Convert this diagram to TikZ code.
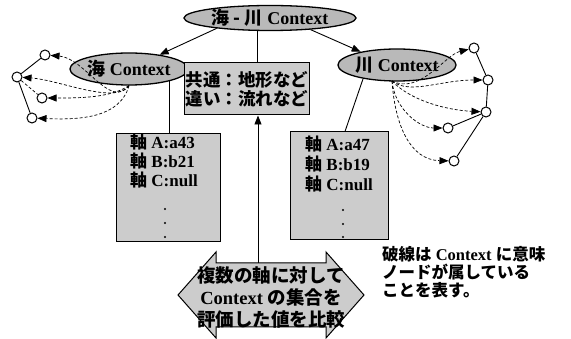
\documentclass[tikz,border=0pt]{standalone}
\usepackage{fontspec}
\setmainfont{Liberation Serif}
\newfontfamily\jp{Noto Sans CJK JP}
\usetikzlibrary{arrows.meta,shapes.geometric}
\begin{document}
\begin{tikzpicture}[x=1pt,y=-1pt,
  ell/.style={ellipse, draw, line width=1.3pt, fill=gray!55, inner sep=0pt, font=\fontsize{18}{19}\selectfont\bfseries},
  boxx/.style={draw, line width=1pt, fill=gray!40, inner sep=0pt},
  txt/.style={anchor=north west, align=left, inner sep=0pt, font=\fontsize{17}{19}\selectfont\bfseries},
  dotn/.style={circle, draw, line width=1pt, fill=white, minimum size=10pt, inner sep=0pt},
  dsh/.style={dash pattern=on 3pt off 2pt, line width=0.7pt, -{Triangle[length=9pt,width=7pt]}},
  sol/.style={line width=0.9pt},
  arr/.style={line width=0.9pt, -{Triangle[length=9pt,width=7pt]}},
]
\useasboundingbox (0,0) rectangle (571,339);
% ellipses
\node[ell, minimum width=172pt, minimum height=25pt] (top) at (270,18) {{\jp 海 - 川} Context};
\node[ell, minimum width=92pt, minimum height=32pt] (le) at (129,69) {{\jp 海} Context};
\node[ell, minimum width=92pt, minimum height=32pt] (re) at (397,65) {{\jp 川} Context};
\draw[arr] (top.191) -- (le.25);
\draw[arr] (top.-16) -- (re.160);
% middle box
\node[boxx, minimum width=125pt, minimum height=52pt, align=left, font=\fontsize{17.5}{19}\selectfont\bfseries] (mid) at (247,89) {\jp 共通：地形など\\\jp 違い：流れなど};
\coordinate (v) at (257,0);
\draw[sol] (top.south -| v) -- (mid.north -| v);
% left box
\node[boxx, minimum width=104pt, minimum height=108pt] (lb) at (168,188) {};
\node[txt] (lt) at (130,134) {{\jp 軸} A:a43\\{\jp 軸} B:b21\\{\jp 軸} C:null};
\fill (165,209) circle (1.1pt) (165,223) circle (1.1pt) (165,237) circle (1.1pt);
\draw[sol] (le.-17) -- (le.-17 |- lb.north);
% right box
\node[boxx, minimum width=98pt, minimum height=108pt] (rb) at (339,186) {};
\node[txt, font=\fontsize{17}{20}\selectfont\bfseries] (rt) at (305,136) {{\jp 軸} A:a47\\{\jp 軸} B:b19\\{\jp 軸} C:null};
\fill (343,210) circle (1.1pt) (343,224) circle (1.1pt) (343,237) circle (1.1pt);
\draw[sol] (re.202) -- ([xshift=6pt]rb.north);
% left small nodes
\node[dotn] (c1) at (45,55) {};
\node[dotn] (c2) at (17,77) {};
\node[dotn] (c3) at (42,98) {};
\node[dotn] (c4) at (32,118) {};
\draw[sol] (c2) -- (c1);
\draw[sol] (c2) -- (c4);
\draw[line width=0.7pt, dash pattern=on 3pt off 2pt] (c2) -- (c3);
\draw[dsh] (le.south) .. controls (110,110) and (85,58) .. (c1);
\draw[dsh] (le.south) .. controls (115,105) and (60,80) .. (c2);
\draw[dsh] (le.south) .. controls (110,98) and (80,98) .. (c3);
\draw[dsh] (le.south) .. controls (120,118) and (80,120) .. (c4);
% right small nodes
\node[dotn] (r1) at (474,48) {};
\node[dotn] (r2) at (488,80) {};
\node[dotn] (r3) at (486,112) {};
\node[dotn] (r4) at (448,128) {};
\node[dotn] (r5) at (454,161) {};
\draw[sol] (r1) -- (r2);
\draw[sol] (r2) -- (r3);
\draw[sol] (r3) -- (r4);
\draw[sol] (r3) -- (r5);
\coordinate (rs) at (392,81);
\draw[dsh] (rs) .. controls (420,95) and (445,55) .. (r1);
\draw[dsh] (rs) .. controls (410,95) and (440,80) .. (r2);
\draw[dsh] (rs) .. controls (410,100) and (445,110) .. (r3);
\draw[dsh] (rs) .. controls (395,110) and (420,128) .. (r4);
\draw[dsh] (rs) .. controls (395,125) and (410,160) .. (r5);
% big double arrow
\draw[line width=1pt, fill=gray!40] (178,295) -- (216,252) -- (216,263) -- (326,263) -- (326,252) -- (364,295) -- (326,338) -- (326,327) -- (216,327) -- (216,338) -- cycle;
\node[align=center, inner sep=0pt, font=\fontsize{18.5}{22}\selectfont\bfseries] (ba) at (271,297) {\jp 複数の軸に対して\\Context {\jp の集合を}\\\jp 評価した値を比較};
\coordinate (bt) at (258,263);
\draw[arr] (bt) -- (bt |- mid.south);
% note
\node[anchor=north west, align=left, inner sep=0pt, font=\fontsize{16.5}{18}\selectfont\bfseries] (note) at (382,246) {{\jp 破線は} Context {\jp に意味}\\\jp ノードが属している\\\jp ことを表す。};
\end{tikzpicture}
\end{document}
